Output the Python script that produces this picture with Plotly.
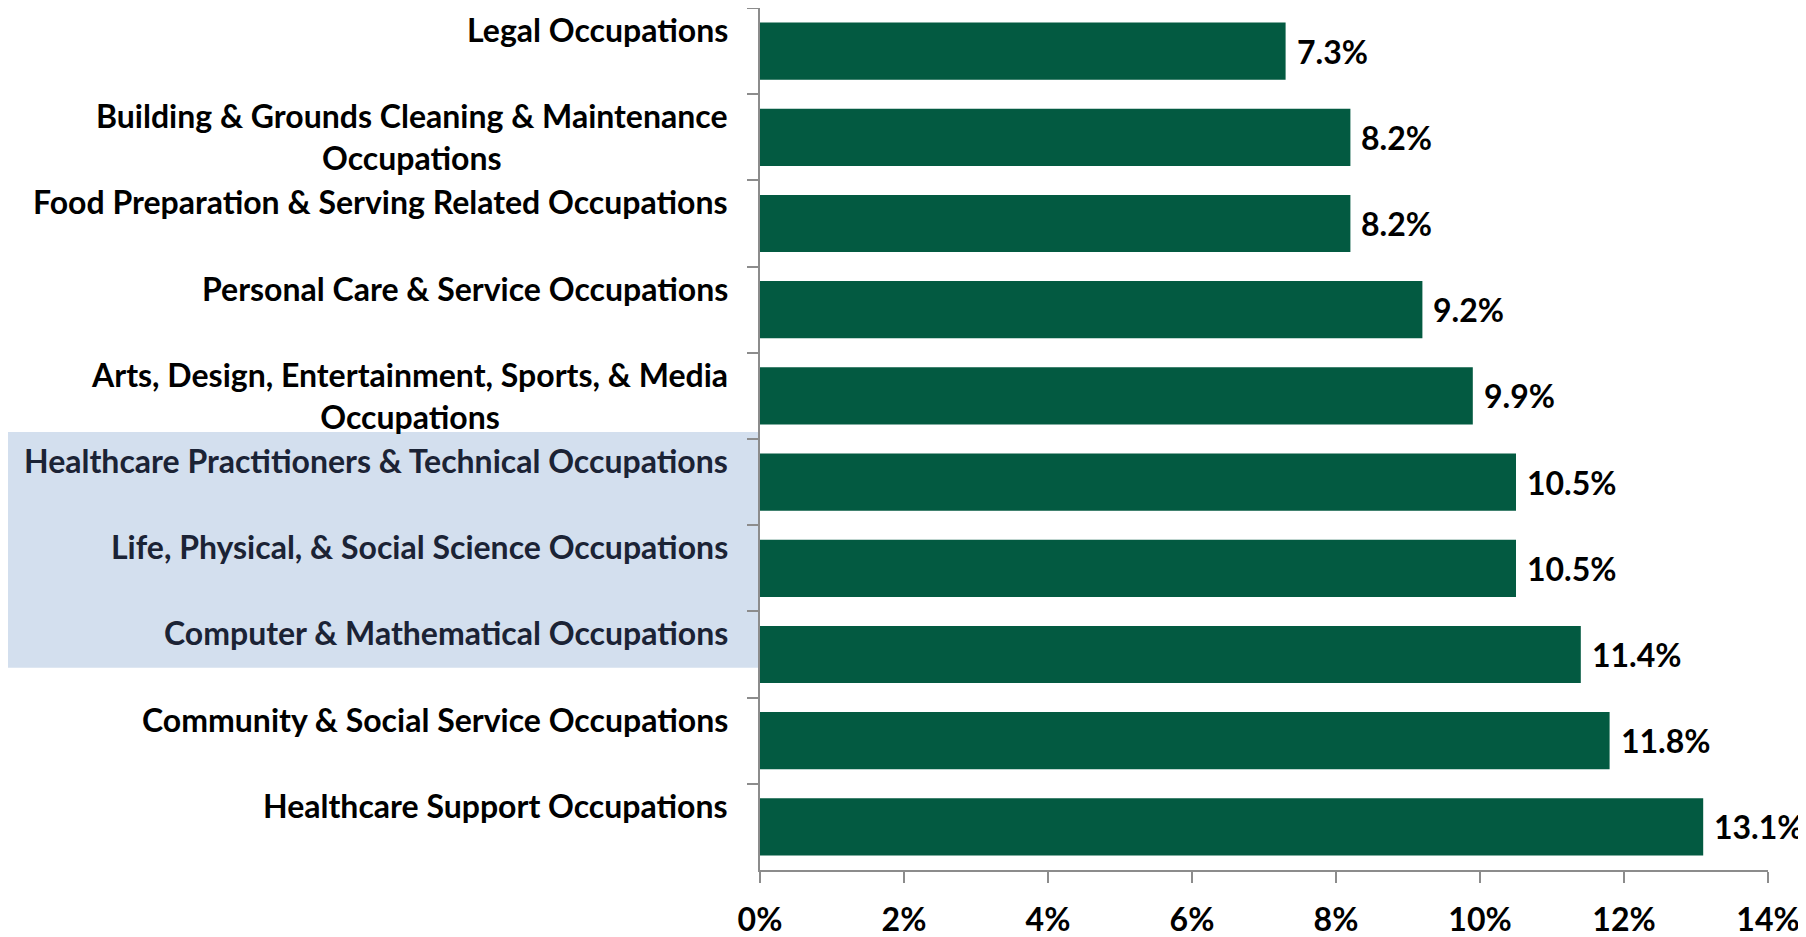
import plotly.graph_objects as go

categories = [
    "Legal Occupations",
    "Building & Grounds Cleaning & Maintenance<br>Occupations",
    "Food Preparation & Serving Related Occupations",
    "Personal Care & Service Occupations",
    "Arts, Design, Entertainment, Sports, & Media<br>Occupations",
    "Healthcare Practitioners & Technical Occupations",
    "Life, Physical, & Social Science Occupations",
    "Computer & Mathematical Occupations",
    "Community & Social Service Occupations",
    "Healthcare Support Occupations",
]
values = [7.3, 8.2, 8.2, 9.2, 9.9, 10.5, 10.5, 11.4, 11.8, 13.1]
highlighted = [
    "Healthcare Practitioners & Technical Occupations",
    "Life, Physical, & Social Science Occupations",
    "Computer & Mathematical Occupations",
]
x_ticks = [0, 2, 4, 6, 8, 10, 12, 14]

# page has an 8px body margin, so the figure is offset by it
W, H = 1798, 929
L, R, T, B = 752, 38, 0, 67
FONT = "Lato"
BAR = "#035a41"
AXIS = "#8c8c8c"

names = [c.replace('<br>', ' ') for c in categories]

fig = go.Figure()
fig.add_trace(go.Bar(
    x=values, y=names,
    orientation='h',
    marker=dict(color=BAR, line=dict(width=0)),
    width=0.664,
    hoverinfo='skip',
))

annotations = []
for i, (cat, v) in enumerate(zip(categories, values)):
    hl = cat in highlighted
    annotations.append(dict(
        x=0, xref='paper', y=i - 0.5, yref='y',
        text=cat, showarrow=False,
        xanchor='right', yanchor='top', align='center',
        xshift=-30, yshift=0,
        font=dict(family=FONT, size=32, color='#1b2335' if hl else '#000000', weight='bold'),
    ))
    annotations.append(dict(
        x=v, xref='x', y=i, yref='y',
        text=f"{v:.1f}%", showarrow=False,
        xanchor='left', yanchor='middle', xshift=9,
        font=dict(family=FONT, size=32, color='#000000', weight='bold'),
    ))

pw = W - L - R
# highlight box behind the three science/tech labels
i0 = categories.index(highlighted[0])
i1 = categories.index(highlighted[-1])
fig.add_shape(
    type='rect', xref='paper', yref='y', layer='below',
    x0=-L / pw, x1=-2 / pw,
    y0=i0 - 0.58, y1=i1 + 0.155,
    fillcolor='#d3dfee', line=dict(width=0),
)

fig.update_layout(
    width=W, height=H,
    margin=dict(l=L, r=R, t=T, b=B),
    paper_bgcolor='white', plot_bgcolor='white',
    showlegend=False,
    annotations=annotations,
    font=dict(family=FONT),
    xaxis=dict(
        range=[0, 14], tickvals=x_ticks, ticktext=[f"{t}%" for t in x_ticks],
        showgrid=False, zeroline=False, automargin=False,
        showline=True, linecolor=AXIS, linewidth=1.5,
        ticks='outside', ticklen=11, tickcolor=AXIS, tickwidth=1.5,
        tickfont=dict(family=FONT, size=32, color='#000000', weight='bold'),
        ticklabelstandoff=10, ticklabeloverflow='allow',
    ),
    yaxis=dict(
        type='category', categoryorder='array', categoryarray=names,
        range=[len(categories) - 0.5, -0.5],
        showgrid=False, zeroline=False, automargin=False,
        showline=True, linecolor=AXIS, linewidth=1.5,
        showticklabels=False,
        tickson='boundaries',
        ticks='outside', ticklen=11, tickcolor=AXIS, tickwidth=1.5,
    ),
)

fig.write_html("out.html")
